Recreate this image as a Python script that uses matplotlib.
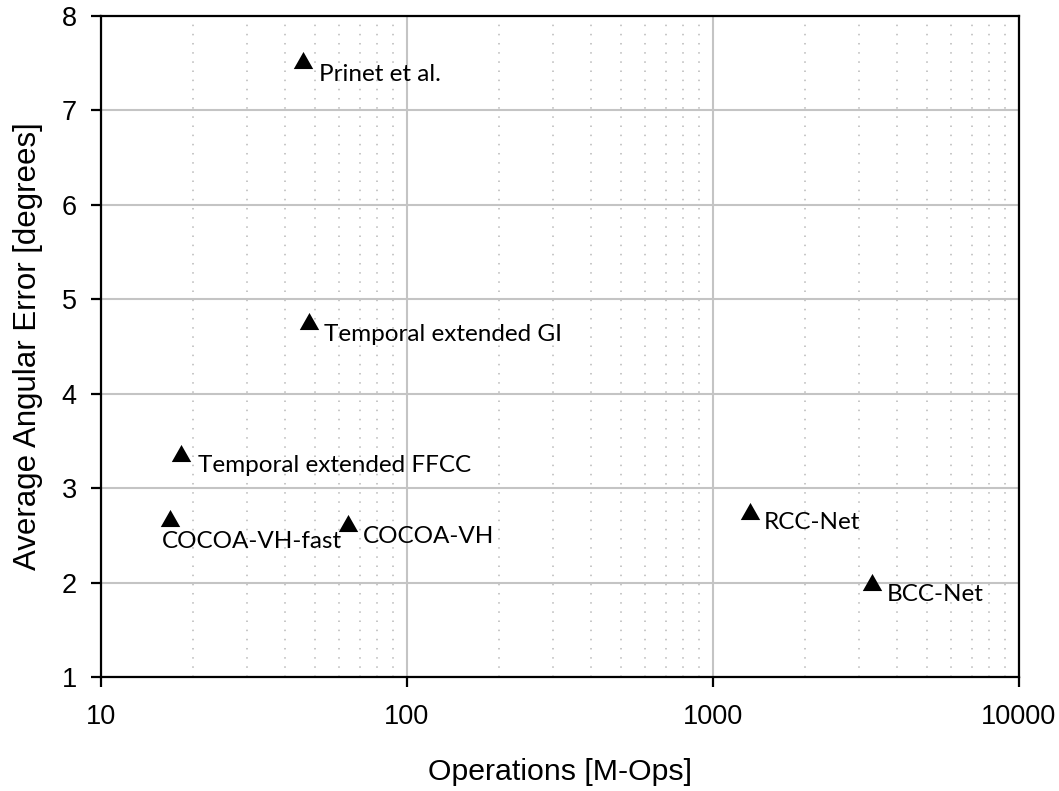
import matplotlib
matplotlib.use("Agg")
import matplotlib.pyplot as plt
from matplotlib.ticker import LogLocator, FixedLocator, NullFormatter, FuncFormatter

# Methods: computational cost vs. average angular error
methods = ["Prinet et al.", "Temporal extended GI", "Temporal extended FFCC",
           "COCOA-VH-fast", "COCOA-VH", "RCC-Net", "BCC-Net"]
ops = [45.6, 47.9, 18.2, 16.75, 64.1, 1326, 3308]
errors = [7.53, 4.765, 3.37, 2.68, 2.63, 2.76, 2.01]

x_ticks = [10, 100, 1000, 10000]
y_ticks = [1, 2, 3, 4, 5, 6, 7, 8]

# label placement relative to each marker (pixels)
label_offsets = {
    "Prinet et al.": (16, -21),
    "Temporal extended GI": (15, -20),
    "Temporal extended FFCC": (17, -19),
    "COCOA-VH-fast": (-8, -30),
    "COCOA-VH": (15, -20),
    "RCC-Net": (13, -18),
    "BCC-Net": (15, -19),
}

fig = plt.figure(figsize=(10.59, 7.91), dpi=100)
ax = fig.add_axes([101 / 1059, 1 - 677 / 791, 918 / 1059, 661 / 791])

ax.set_xscale("log")
ax.set_xlim(10, 10000)
ax.set_ylim(1, 8)

ax.xaxis.set_major_locator(FixedLocator(x_ticks))
ax.xaxis.set_major_formatter(FuncFormatter(lambda v, p: f"{int(v)}"))
ax.xaxis.set_minor_locator(LogLocator(base=10, subs=range(2, 10)))
ax.xaxis.set_minor_formatter(NullFormatter())
ax.yaxis.set_major_locator(FixedLocator(y_ticks))

ax.grid(True, which="major", color="#c4c4c4", linewidth=1.5, linestyle="-")
ax.grid(True, which="minor", axis="x", color="#b8b8b8", linewidth=1.1,
        linestyle=(0, (1, 5)))
ax.set_axisbelow(True)

for s in ax.spines.values():
    s.set_color("black")
    s.set_linewidth(1.6)

tick_font = "Liberation Sans"
ax.tick_params(axis="both", which="major", direction="out", length=7.5,
               width=1.6, color="black", labelsize=19.5)
ax.tick_params(axis="x", which="major", pad=12)
ax.tick_params(axis="y", which="major", pad=10)
ax.tick_params(axis="x", which="minor", length=0)
for lbl in ax.get_xticklabels() + ax.get_yticklabels():
    lbl.set_fontfamily(tick_font)

# slightly flattened upward triangle
tri = [(-1.0, -0.88), (1.0, -0.88), (0.0, 0.88), (-1.0, -0.88)]
ax.scatter(ops, errors, marker=tri, s=14 ** 2, color="black", zorder=3,
           linewidths=0)

for name, x, y in zip(methods, ops, errors):
    dx, dy = label_offsets[name]
    ax.annotate(name, (x, y), xytext=(dx, dy), textcoords="offset pixels",
                ha="left", va="baseline", fontsize=17.5, family="Lato",
                color="black", zorder=4)

ax.set_xlabel("Operations [M-Ops]", fontsize=21.8, family=tick_font, labelpad=20)
ax.set_ylabel("Average Angular Error [degrees]", fontsize=22.5, family=tick_font,
              labelpad=13)

fig.savefig("out.png", dpi=100)
